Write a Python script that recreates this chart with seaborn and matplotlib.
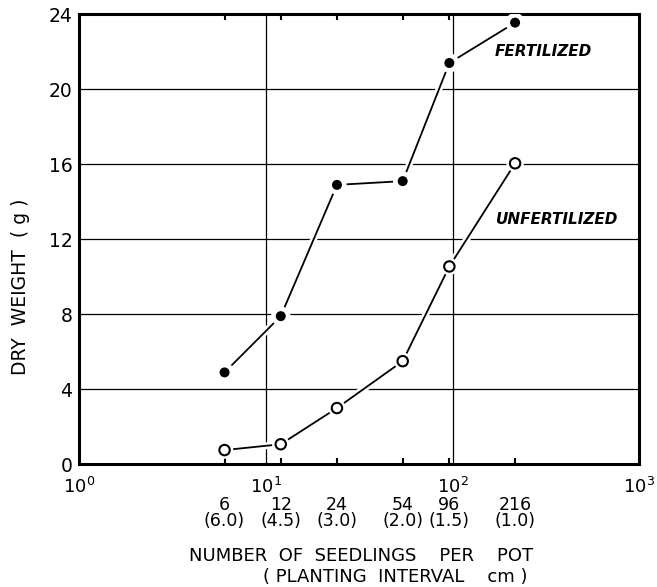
import matplotlib
matplotlib.use("Agg")
import matplotlib.pyplot as plt
import matplotlib.patheffects as pe
from matplotlib.ticker import FixedLocator, NullFormatter
import seaborn as sns

# Seedlings per pot and the matching planting interval (cm)
seedlings = [6, 12, 24, 54, 96, 216]
intervals = ["6.0", "4.5", "3.0", "2.0", "1.5", "1.0"]

# Dry weight (g)
fertilized = [4.9, 7.9, 14.9, 15.1, 21.4, 23.55]
unfertilized = [0.76, 1.07, 3.0, 5.5, 10.55, 16.05]

decades = [1, 10, 100, 1000]
decade_labels = ["$10^{0}$", "$10^{1}$", "$10^{2}$", "$10^{3}$"]
yticks = [0, 4, 8, 12, 16, 20, 24]

sns.set_style("white")
plt.rcParams["font.family"] = ["DejaVu Sans"]
for key in ["text.color", "axes.labelcolor", "xtick.color", "ytick.color",
            "xtick.labelcolor", "ytick.labelcolor"]:
    plt.rcParams[key] = "black"

fig = plt.figure(figsize=(6.57, 5.87), dpi=100)
ax = fig.add_axes([0.1207, 0.209, 0.8524, 0.7668])

halo = [pe.Stroke(linewidth=5, foreground="white"), pe.Normal()]

sns.lineplot(x=seedlings, y=fertilized, ax=ax, color="black", linewidth=1.3,
             marker="o", markersize=9, markerfacecolor="black",
             markeredgecolor="white", markeredgewidth=1.8,
             path_effects=halo, zorder=3)
sns.lineplot(x=seedlings, y=unfertilized, ax=ax, color="black", linewidth=1.3,
             marker="o", markersize=7.5, markerfacecolor="white",
             markeredgecolor="black", markeredgewidth=1.5,
             path_effects=halo, zorder=3)

ax.set_xscale("log")
ax.set_xlim(1, 1000)
ax.set_ylim(0, 24)

# Grid: horizontal at each y tick, vertical at each decade
for yv in yticks[1:-1]:
    ax.axhline(yv, color="black", linewidth=0.9, zorder=1)
for xv in decades[1:-1]:
    ax.axvline(xv, color="black", linewidth=0.9, zorder=1)

ax.set_yticks(yticks)
ax.set_yticklabels([str(v) for v in yticks], fontsize=13.5)
ax.tick_params(axis="y", length=0, pad=5)

ax.xaxis.set_major_locator(FixedLocator(decades))
ax.set_xticklabels(decade_labels, fontsize=13)
ax.xaxis.set_minor_locator(FixedLocator(seedlings))
ax.xaxis.set_minor_formatter(NullFormatter())
ax.set_xticks(seedlings, [f"{s}\n({i})" for s, i in zip(seedlings, intervals)],
              minor=True)
for lbl in ax.get_xticklabels(minor=True):
    lbl.set_fontsize(12.5)
    lbl.set_linespacing(0.85)
ax.tick_params(axis="x", which="major", length=0, pad=9)
ax.tick_params(axis="x", which="minor", direction="in", length=4, width=1.5,
               top=True, bottom=True, pad=23, color="black")

for side in ["left", "right", "top", "bottom"]:
    ax.spines[side].set_visible(True)
    ax.spines[side].set_color("black")
    ax.spines[side].set_linewidth(2.2)

ax.set_xlabel("")
ax.set_ylabel("")

ax.text(168, 22.0, "FERTILIZED", fontsize=11, style="italic",
        fontweight="bold", ha="left", va="center")
ax.text(170, 13.03, "UNFERTILIZED", fontsize=11, style="italic",
        fontweight="bold", ha="left", va="center")

fig.text(21 / 657, 1 - 287 / 587, "DRY  WEIGHT  ( g )", rotation=90,
         fontsize=13.5, ha="center", va="center")
fig.text(361 / 657, 1 - 556 / 587, "NUMBER  OF  SEEDLINGS    PER    POT",
         fontsize=13, ha="center", va="center")
fig.text(395 / 657, 1 - 577 / 587, "( PLANTING  INTERVAL    cm )",
         fontsize=13, ha="center", va="center")

fig.savefig("out.png", dpi=100, facecolor="white")
